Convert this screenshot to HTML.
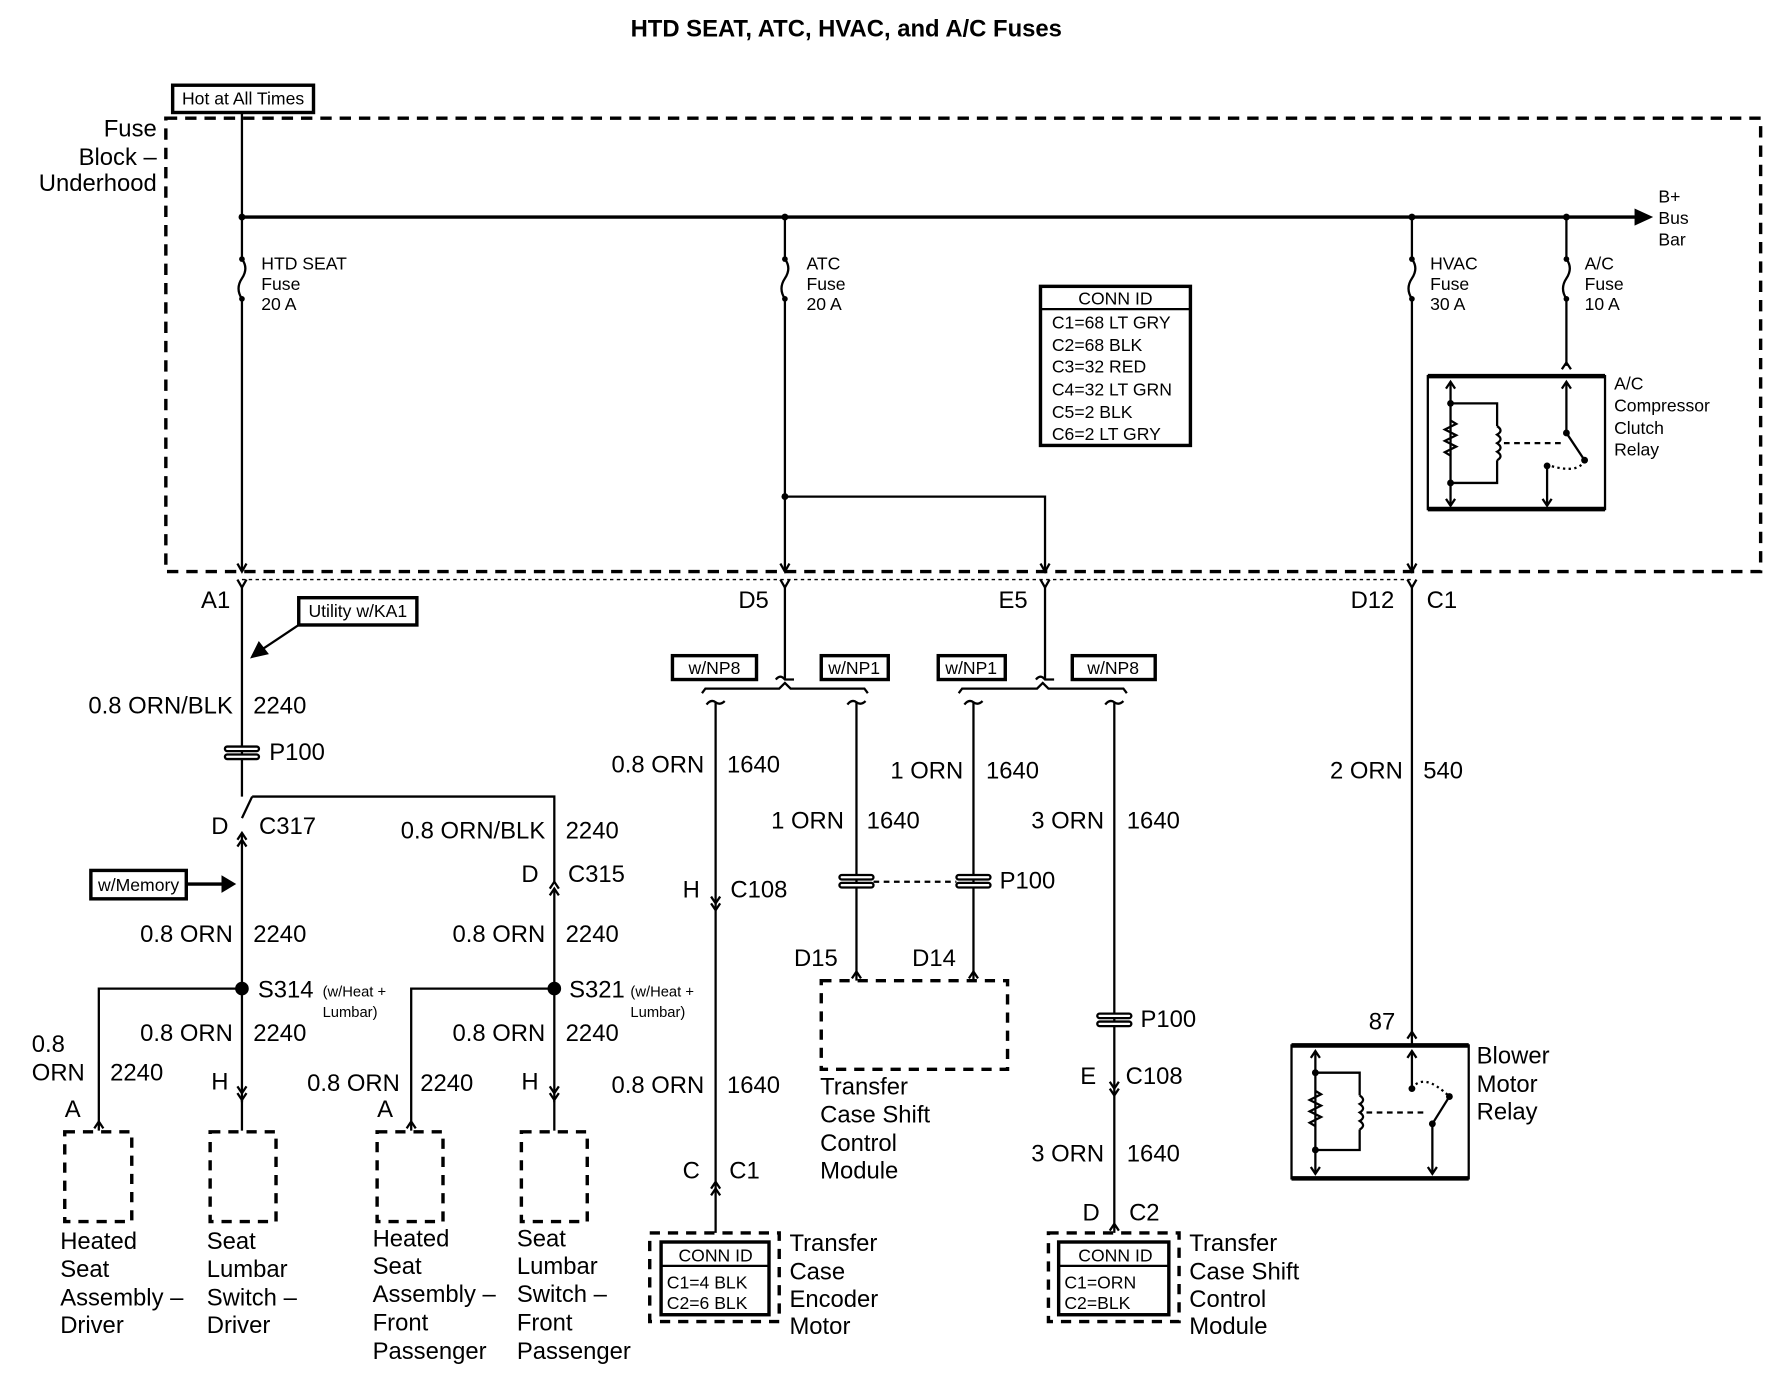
<!DOCTYPE html>
<html><head><meta charset="utf-8"><style>
html,body{margin:0;padding:0;background:#fff;}
svg{display:block;}
text{font-family:"Liberation Sans",Arial,sans-serif;fill:#000;}
.b{font-size:21px;}
.s{font-size:15.5px;}
.xs{font-size:13px;}
</style></head><body>
<svg width="1772" height="1392" viewBox="0 0 1560 1225" preserveAspectRatio="none" xmlns="http://www.w3.org/2000/svg">
<g stroke="#000" fill="none" stroke-width="2">
<!-- dashed fuse block -->
<rect x="146" y="104" width="1404" height="399" stroke-width="3" stroke-dasharray="10,7"/>
<!-- hot at all times -->
<rect x="152" y="75" width="124" height="24" stroke-width="3"/>
<!-- bus bar -->
<line x1="213" y1="191" x2="1442" y2="191" stroke-width="3"/>
<polygon points="1440,185 1453,191 1440,197" fill="#000"/>
<!-- HTD line -->
<line x1="213" y1="99" x2="213" y2="228"/>
<path d="M213 228 q6 8 0 17 q-6 9 0 18"/>
<line x1="213" y1="263" x2="213" y2="503"/>
<!-- ATC -->
<line x1="691" y1="191" x2="691" y2="228"/>
<path d="M691 228 q6 8 0 17 q-6 9 0 18"/>
<line x1="691" y1="263" x2="691" y2="503"/>
<polyline points="691,437 920,437 920,503"/>
<!-- HVAC -->
<line x1="1243" y1="191" x2="1243" y2="228"/>
<path d="M1243 228 q6 8 0 17 q-6 9 0 18"/>
<line x1="1243" y1="263" x2="1243" y2="503"/>
<!-- A/C -->
<line x1="1379" y1="191" x2="1379" y2="228"/>
<path d="M1379 228 q6 8 0 17 q-6 9 0 18"/>
<line x1="1379" y1="263" x2="1379" y2="322"/>
<polyline points="1375,325 1379,319 1383,325"/>
<!-- A/C relay -->
<rect x="1257" y="331" width="156" height="117"/>
<line x1="1257" y1="331" x2="1413" y2="331" stroke-width="4"/>
<line x1="1257" y1="448" x2="1413" y2="448" stroke-width="4"/>
<line x1="1277" y1="336" x2="1277" y2="445"/>
<polyline points="1273,342 1277,336 1281,342"/><polyline points="1273,439 1277,445 1281,439"/>
<polyline points="1277,355 1318,355 1318,375"/><polyline points="1318,405 1318,425 1277,425"/>
<path d="M1277 370 l5 3 -10 5 10 5 -10 5 10 5 -10 5 5 3" />
<path d="M1318 375 q6 4 0 7.5 q6 4 0 7.5 q6 4 0 7.5 q6 4 0 7.5"/>
<line x1="1324" y1="390" x2="1375" y2="390" stroke-dasharray="5,4"/>
<line x1="1379" y1="336" x2="1379" y2="381"/>
<polyline points="1375,342 1379,336 1383,342"/>
<line x1="1379" y1="381" x2="1395" y2="405"/>
<path d="M1395 405 q-5 12 -30 5" stroke-dasharray="2,3"/>
<line x1="1362" y1="410" x2="1362" y2="445"/>
<polyline points="1358,439 1362,445 1366,439"/>
<!-- CONN ID -->
<rect x="916" y="252" width="132" height="140" stroke-width="3"/>
<line x1="916" y1="272" x2="1048" y2="272" stroke-width="2"/>
<!-- connectors at block edge -->
<polyline points="209,496 213,503 217,496"/><polyline points="687,496 691,503 695,496"/>
<polyline points="916,496 920,503 924,496"/><polyline points="1239,496 1243,503 1247,496"/>
<line x1="213" y1="510" x2="1243" y2="510" stroke-width="1.2" stroke-dasharray="3,3"/>
<polyline points="209,510 213,517 217,510"/><polyline points="687,510 691,517 695,510"/>
<polyline points="916,510 920,517 924,510"/><polyline points="1239,510 1243,517 1247,510"/>
<!-- HTD down -->
<line x1="213" y1="517" x2="213" y2="701"/>
<line x1="213" y1="720" x2="222" y2="701"/>
<polyline points="222,701 488,701 488,776"/>
<rect x="363" y="526" width="104" height="0" stroke="none"/>
<rect x="263" y="526" width="104" height="24" stroke-width="3"/>
<line x1="263" y1="550" x2="230" y2="572"/>
<polygon points="222,578 228,566 235,575" fill="#000"/>
<!-- P100 htd -->
<rect x="198" y="657" width="30" height="4" rx="2" fill="#fff" stroke-width="2"/>
<rect x="198" y="664" width="30" height="4" rx="2" fill="#fff" stroke-width="2"/>
<!-- C317 -->
<polyline points="209,739 213,733 217,739"/><polyline points="209,745 213,739 217,745"/>
<line x1="213" y1="733" x2="213" y2="970"/>
<polyline points="209,962 213,968 217,962"/><polyline points="209,956 213,962 217,956"/>
<!-- C315 -->
<polyline points="484,782 488,776 492,782"/><polyline points="484,788 488,782 492,788"/>
<line x1="488" y1="782" x2="488" y2="970"/>
<polyline points="484,962 488,968 492,962"/><polyline points="484,956 488,962 492,956"/>
<!-- w/Memory -->
<rect x="80" y="766" width="84" height="25" stroke-width="3"/>
<line x1="164" y1="778" x2="198" y2="778" stroke-width="3"/>
<polygon points="196,772 206,778 196,784" fill="#000"/>
<!-- splices -->
<circle cx="213" cy="870" r="5" fill="#000"/><circle cx="488" cy="870" r="5" fill="#000"/>
<polyline points="213,870 87,870 87,995"/><polyline points="488,870 362,870 362,995"/>
<polyline points="83,993 87,987 91,993"/><polyline points="358,993 362,987 366,993"/>
<line x1="213" y1="968" x2="213" y2="995"/><line x1="488" y1="968" x2="488" y2="995"/>
<!-- dashed component boxes -->
<g stroke-width="3" stroke-dasharray="9,7">
<rect x="57" y="996" width="59" height="79"/><rect x="185" y="996" width="58" height="79"/>
<rect x="332" y="996" width="58" height="79"/><rect x="459" y="996" width="58" height="79"/>
<rect x="723" y="863" width="164" height="78"/>
<rect x="572" y="1085" width="114" height="78"/><rect x="923" y="1085" width="115" height="78"/>
</g>
<rect x="582" y="1093" width="95" height="64" stroke-width="3"/><line x1="582" y1="1114" x2="677" y2="1114"/>
<rect x="932" y="1093" width="97" height="64" stroke-width="3"/><line x1="932" y1="1114" x2="1029" y2="1114"/>
<!-- D5/E5 options -->
<line x1="691" y1="517" x2="691" y2="598"/>
<path d="M683 598 q4 -5 8 0 l8 0"/>
<line x1="920" y1="517" x2="920" y2="598"/>
<path d="M912 598 q4 -5 8 0 l8 0"/>
<rect x="592" y="577" width="74" height="21" stroke-width="3"/><rect x="723" y="577" width="59" height="21" stroke-width="3"/>
<rect x="826" y="577" width="59" height="21" stroke-width="3"/><rect x="944" y="577" width="73" height="21" stroke-width="3"/>
<path d="M618 610 l3 -4 65 0 5 -5 5 5 65 0 3 4"/>
<path d="M844 610 l3 -4 66 0 5 -5 5 5 66 0 3 4"/>
<path d="M622 620 q4 -5 8 -2 q4 3 8 -1"/><path d="M746 620 q4 -5 8 -2 q4 3 8 -1"/>
<path d="M849 620 q4 -5 8 -2 q4 3 8 -1"/><path d="M973 620 q4 -5 8 -2 q4 3 8 -1"/>
<line x1="630" y1="618" x2="630" y2="1085"/>
<line x1="754" y1="618" x2="754" y2="863"/>
<line x1="857" y1="618" x2="857" y2="863"/>
<line x1="981" y1="618" x2="981" y2="1085"/>
<!-- C108 at 630 -->
<polyline points="626,789 630,795 634,789"/><polyline points="626,795 630,801 634,795"/>
<!-- P100 pair -->
<rect x="739" y="770" width="30" height="4" rx="2" fill="#fff"/><rect x="739" y="777" width="30" height="4" rx="2" fill="#fff"/>
<rect x="842" y="770" width="30" height="4" rx="2" fill="#fff"/><rect x="842" y="777" width="30" height="4" rx="2" fill="#fff"/>
<line x1="769" y1="776" x2="842" y2="776" stroke-dasharray="5,4"/>
<polyline points="750,861 754,855 758,861"/><polyline points="853,861 857,855 861,861"/>
<!-- C1 630 -->
<polyline points="626,1046 630,1040 634,1046"/><polyline points="626,1052 630,1046 634,1052"/>
<!-- 981 -->
<rect x="966" y="892" width="30" height="4" rx="2" fill="#fff"/><rect x="966" y="899" width="30" height="4" rx="2" fill="#fff"/>
<polyline points="977,952 981,958 985,952"/><polyline points="977,958 981,964 985,958"/>
<polyline points="977,1083 981,1077 985,1083"/>
<!-- HVAC down to blower -->
<line x1="1243" y1="517" x2="1243" y2="920"/>
<polyline points="1239,914 1243,908 1247,914"/>
<rect x="1137" y="920" width="156" height="117"/>
<line x1="1137" y1="920" x2="1293" y2="920" stroke-width="4"/>
<line x1="1137" y1="1037" x2="1293" y2="1037" stroke-width="4"/>
<line x1="1158" y1="925" x2="1158" y2="1033"/>
<polyline points="1154,931 1158,925 1162,931"/><polyline points="1154,1027 1158,1033 1162,1027"/>
<polyline points="1158,944 1197,944 1197,964"/><polyline points="1197,994 1197,1012 1158,1012"/>
<path d="M1158 960 l5 3 -10 5 10 5 -10 5 10 5 -10 5 5 3"/>
<path d="M1197 964 q6 4 0 7.5 q6 4 0 7.5 q6 4 0 7.5 q6 4 0 7.5"/>
<line x1="1203" y1="979" x2="1255" y2="979" stroke-dasharray="5,4"/>
<line x1="1243" y1="925" x2="1243" y2="958"/>
<polyline points="1239,931 1243,925 1247,931"/>
<path d="M1243 958 q10 -15 33 7" stroke-dasharray="2,3"/>
<line x1="1276" y1="965" x2="1261" y2="989"/>
<line x1="1261" y1="989" x2="1261" y2="1033"/>
<polyline points="1257,1027 1261,1033 1265,1027"/>
</g>
<g fill="#000">
<circle cx="213" cy="191" r="3"/><circle cx="691" cy="191" r="3"/><circle cx="1243" cy="191" r="3"/><circle cx="1379" cy="191" r="3"/>
<circle cx="213" cy="228" r="2.5"/><circle cx="213" cy="263" r="2.5"/><circle cx="691" cy="228" r="2.5"/><circle cx="691" cy="263" r="2.5"/>
<circle cx="1243" cy="228" r="2.5"/><circle cx="1243" cy="263" r="2.5"/><circle cx="1379" cy="228" r="2.5"/><circle cx="1379" cy="263" r="2.5"/>
<circle cx="691" cy="437" r="3"/><circle cx="1277" cy="355" r="3"/><circle cx="1277" cy="425" r="3"/>
<circle cx="1379" cy="381" r="3"/><circle cx="1395" cy="405" r="3"/><circle cx="1362" cy="410" r="3"/>
<circle cx="1158" cy="944" r="3"/><circle cx="1158" cy="1012" r="3"/><circle cx="1243" cy="958" r="3"/><circle cx="1276" cy="965" r="3"/><circle cx="1261" cy="989" r="3"/>
</g>
<text x="745" y="32" text-anchor="middle" style="font-size:21px;font-weight:bold">HTD SEAT, ATC, HVAC, and A/C Fuses</text>
<text x="214" y="92" text-anchor="middle" class="s">Hot at All Times</text>
<g class="b" text-anchor="end"><text x="138" y="120">Fuse</text><text x="138" y="145">Block –</text><text x="138" y="168">Underhood</text></g>
<g class="s">
<text x="1460" y="178">B+</text><text x="1460" y="197">Bus</text><text x="1460" y="216">Bar</text>
<text x="230" y="237">HTD SEAT</text><text x="230" y="255">Fuse</text><text x="230" y="273">20 A</text>
<text x="710" y="237">ATC</text><text x="710" y="255">Fuse</text><text x="710" y="273">20 A</text>
<text x="1259" y="237">HVAC</text><text x="1259" y="255">Fuse</text><text x="1259" y="273">30 A</text>
<text x="1395" y="237">A/C</text><text x="1395" y="255">Fuse</text><text x="1395" y="273">10 A</text>
<text x="1421" y="343">A/C</text><text x="1421" y="362">Compressor</text><text x="1421" y="382">Clutch</text><text x="1421" y="401">Relay</text>
<text x="982" y="268" text-anchor="middle">CONN ID</text>
<text x="926" y="289">C1=68 LT GRY</text><text x="926" y="309">C2=68 BLK</text><text x="926" y="328">C3=32 RED</text>
<text x="926" y="348">C4=32 LT GRN</text><text x="926" y="368">C5=2 BLK</text><text x="926" y="387">C6=2 LT GRY</text>
<text x="315" y="543" text-anchor="middle">Utility w/KA1</text>
<text x="122" y="784" text-anchor="middle">w/Memory</text>
<text x="629" y="593" text-anchor="middle">w/NP8</text><text x="752" y="593" text-anchor="middle">w/NP1</text>
<text x="855" y="593" text-anchor="middle">w/NP1</text><text x="980" y="593" text-anchor="middle">w/NP8</text>
<text x="630" y="1110" text-anchor="middle">CONN ID</text><text x="587" y="1134">C1=4 BLK</text><text x="587" y="1152">C2=6 BLK</text>
<text x="982" y="1110" text-anchor="middle">CONN ID</text><text x="937" y="1134">C1=ORN</text><text x="937" y="1152">C2=BLK</text>
</g>
<g class="xs"><text x="284" y="877">(w/Heat +</text><text x="284" y="895">Lumbar)</text>
<text x="555" y="877">(w/Heat +</text><text x="555" y="895">Lumbar)</text></g>
<g class="b">
<text x="177" y="535">A1</text><text x="650" y="535">D5</text><text x="879" y="535">E5</text><text x="1189" y="535">D12</text><text x="1256" y="535">C1</text>
<text x="205" y="628" text-anchor="end">0.8 ORN/BLK</text><text x="223" y="628">2240</text>
<text x="237" y="669">P100</text>
<text x="186" y="734">D</text><text x="228" y="734">C317</text>
<text x="480" y="738" text-anchor="end">0.8 ORN/BLK</text><text x="498" y="738">2240</text>
<text x="459" y="776">D</text><text x="500" y="776">C315</text>
<text x="205" y="829" text-anchor="end">0.8 ORN</text><text x="223" y="829">2240</text>
<text x="480" y="829" text-anchor="end">0.8 ORN</text><text x="498" y="829">2240</text>
<text x="227" y="878">S314</text><text x="501" y="878">S321</text>
<text x="205" y="916" text-anchor="end">0.8 ORN</text><text x="223" y="916">2240</text>
<text x="480" y="916" text-anchor="end">0.8 ORN</text><text x="498" y="916">2240</text>
<text x="28" y="926">0.8</text><text x="28" y="951">ORN</text><text x="97" y="951">2240</text>
<text x="352" y="960" text-anchor="end">0.8 ORN</text><text x="370" y="960">2240</text>
<text x="186" y="959">H</text><text x="459" y="959">H</text><text x="57" y="983">A</text><text x="332" y="983">A</text>
<text x="53" y="1099">Heated</text><text x="53" y="1124">Seat</text><text x="53" y="1149">Assembly –</text><text x="53" y="1173">Driver</text>
<text x="182" y="1099">Seat</text><text x="182" y="1124">Lumbar</text><text x="182" y="1149">Switch –</text><text x="182" y="1173">Driver</text>
<text x="328" y="1097">Heated</text><text x="328" y="1121">Seat</text><text x="328" y="1146">Assembly –</text><text x="328" y="1171">Front</text><text x="328" y="1196">Passenger</text>
<text x="455" y="1097">Seat</text><text x="455" y="1121">Lumbar</text><text x="455" y="1146">Switch –</text><text x="455" y="1171">Front</text><text x="455" y="1196">Passenger</text>
<text x="620" y="680" text-anchor="end">0.8 ORN</text><text x="640" y="680">1640</text>
<text x="848" y="685" text-anchor="end">1 ORN</text><text x="868" y="685">1640</text>
<text x="743" y="729" text-anchor="end">1 ORN</text><text x="763" y="729">1640</text>
<text x="972" y="729" text-anchor="end">3 ORN</text><text x="992" y="729">1640</text>
<text x="1235" y="685" text-anchor="end">2 ORN</text><text x="1253" y="685">540</text>
<text x="880" y="782">P100</text>
<text x="601" y="790">H</text><text x="643" y="790">C108</text>
<text x="699" y="850">D15</text><text x="803" y="850">D14</text>
<text x="722" y="963">Transfer</text><text x="722" y="988">Case Shift</text><text x="722" y="1013">Control</text><text x="722" y="1037">Module</text>
<text x="620" y="962" text-anchor="end">0.8 ORN</text><text x="640" y="962">1640</text>
<text x="601" y="1037">C</text><text x="642" y="1037">C1</text>
<text x="695" y="1101">Transfer</text><text x="695" y="1126">Case</text><text x="695" y="1150">Encoder</text><text x="695" y="1174">Motor</text>
<text x="1004" y="904">P100</text>
<text x="951" y="954">E</text><text x="991" y="954">C108</text>
<text x="972" y="1022" text-anchor="end">3 ORN</text><text x="992" y="1022">1640</text>
<text x="953" y="1074">D</text><text x="994" y="1074">C2</text>
<text x="1047" y="1101">Transfer</text><text x="1047" y="1126">Case Shift</text><text x="1047" y="1150">Control</text><text x="1047" y="1174">Module</text>
<text x="1205" y="906">87</text>
<text x="1300" y="936">Blower</text><text x="1300" y="961">Motor</text><text x="1300" y="985">Relay</text>
</g>
</svg>
</body></html>
